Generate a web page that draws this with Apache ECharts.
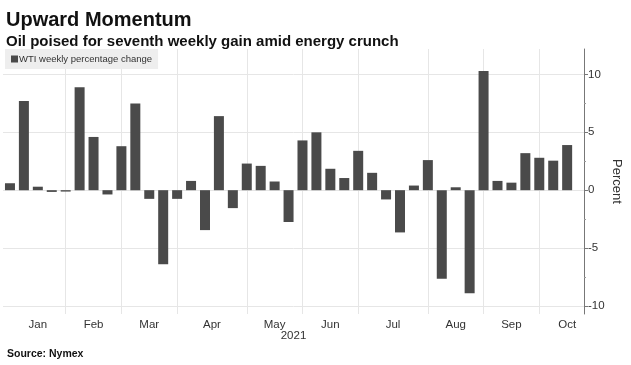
<!DOCTYPE html>
<html>
<head>
<meta charset="utf-8">
<script src="https://cdn.jsdelivr.net/npm/echarts@6/dist/echarts.min.js"></script>
<style>
html,body{margin:0;padding:0;background:#fff;}
#c{width:631px;height:365px;}
</style>
</head>
<body>
<div id="c"></div>
<script>
// Weekly WTI percentage change, 2021 (week index 0..40)
const weeklyChange = [
  0.6, 7.7, 0.3, -0.15, -0.12, 8.9, 4.6, -0.37, 3.8, 7.5,
  -0.75, -6.4, -0.75, 0.8, -3.45, 6.4, -1.55, 2.3, 2.1, 0.75,
  -2.75, 4.3, 5.0, 1.85, 1.05, 3.4, 1.5, -0.8, -3.65, 0.4,
  2.6, -7.65, 0.25, -8.9, 10.3, 0.8, 0.65, 3.2, 2.8, 2.55, 3.9
];
const weekIndex = weeklyChange.map((_, i) => i);
// Month names and the week index at which each month's boundary line is drawn
const monthNames = ['Jan','Feb','Mar','Apr','May','Jun','Jul','Aug','Sep','Oct'];
const monthStartWeek = [0, 4, 8, 12, 17, 21, 25, 30, 34, 38, 42];
const yTickLabels = [-10, -5, 0, 5, 10];
const yMinorTicks = [-7.5, -2.5, 2.5, 7.5];

const monthLabelPos = monthNames.map((m, i) => (monthStartWeek[i] + monthStartWeek[i + 1]) / 2);
const monthBoundaries = monthStartWeek.slice(1, monthNames.length);

const chart = echarts.init(document.getElementById('c'), null, {renderer: 'canvas'});
const font = 'Liberation Sans';
chart.setOption({
  animation: false,
  backgroundColor: '#ffffff',
  title: [
    {text: 'Upward Momentum', left: 1, top: 5,
     textStyle: {fontFamily: font, fontWeight: 'bold', fontSize: 20, color: '#111'}},
    {text: 'Oil poised for seventh weekly gain amid energy crunch', left: 1, top: 29,
     textStyle: {fontFamily: font, fontWeight: 'bold', fontSize: 15, color: '#111'}},
    {text: 'Source: Nymex', left: 2, top: 344,
     textStyle: {fontFamily: font, fontWeight: 'bold', fontSize: 10.5, color: '#111'}}
  ],
  legend: {
    left: 5, top: 49,
    backgroundColor: '#eeeeee',
    padding: [5, 6, 5, 6],
    icon: 'rect', itemWidth: 7, itemHeight: 7, itemGap: 0,
    textStyle: {fontFamily: font, fontSize: 9.5, color: '#333', padding: [0, 0, 0, -4]},
    data: ['WTI weekly percentage change']
  },
  grid: {left: 3, right: 47, top: 49, bottom: 51, containLabel: false, outerBoundsMode: 'none'},
  xAxis: {
    type: 'value',
    min: -0.5, max: 41.21,
    name: '2021', nameLocation: 'middle', nameGap: 16, nameMoveOverlap: false,
    nameTextStyle: {fontFamily: font, fontSize: 11.5, color: '#333'},
    axisLine: {show: false, onZero: false},
    axisTick: {show: false, customValues: monthBoundaries},
    splitLine: {show: true, lineStyle: {color: '#e6e6e6', width: 1}},
    axisLabel: {
      customValues: monthLabelPos,
      formatter: v => monthNames[monthLabelPos.indexOf(v)] || '',
      fontFamily: font, fontSize: 11.5, color: '#333', margin: 5
    }
  },
  yAxis: [
    {
      type: 'value', position: 'right',
      min: -10.7, max: 12.2,
      name: 'Percent', nameLocation: 'middle', nameGap: 26, nameRotate: -90, nameMoveOverlap: false,
      nameTextStyle: {fontFamily: font, fontSize: 13, color: '#333'},
      axisLine: {show: true, onZero: false, lineStyle: {color: '#777', width: 1}},
      axisTick: {show: true, inside: false, length: 4, customValues: yTickLabels, lineStyle: {color: '#777'}},
      splitLine: {show: true, lineStyle: {color: '#e6e6e6', width: 1}},
      axisLabel: {customValues: yTickLabels, fontFamily: font, fontSize: 11.5, color: '#333', margin: 4}
    },
    {
      type: 'value', position: 'right',
      min: -10.7, max: 12.2,
      axisLine: {show: false, onZero: false},
      axisTick: {show: true, length: 2, customValues: yMinorTicks, lineStyle: {color: '#999'}},
      splitLine: {show: false},
      axisLabel: {show: false}
    }
  ],
  series: [{
    name: 'WTI weekly percentage change',
    type: 'bar',
    barWidth: 10,
    itemStyle: {color: '#4a4a4a'},
    data: weekIndex.map(i => [i, weeklyChange[i]])
  }]
});
</script>
</body>
</html>
